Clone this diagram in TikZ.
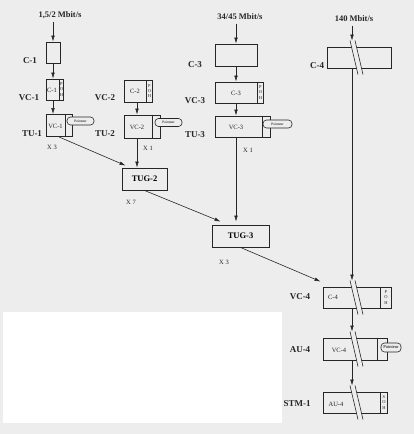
\documentclass[tikz,border=0pt]{standalone}
\usepackage{fontspec}
\setmainfont{Liberation Serif}
\usetikzlibrary{arrows.meta,calc}
\definecolor{sdhink}{HTML}{262626}
\definecolor{sdhpaper}{HTML}{EDEDED}

% double slash drawn through a box of the 140 Mbit/s column
\newcommand{\brk}[1]{%
  \fill[sdhpaper] ($(#1.north -| k4)+(-2,-6)$) -- ($(#1.north -| k4)+(3,-6)$)
    -- ($(#1.south -| k4)+(11,6)$) -- ($(#1.south -| k4)+(6,6)$) -- cycle;
  \draw[sdhink, line width=0.6pt] ($(#1.north -| k4)+(-2,-6)$) -- ($(#1.south -| k4)+(6,6)$);
  \draw[sdhink, line width=0.6pt] ($(#1.north -| k4)+(3,-6)$) -- ($(#1.south -| k4)+(11,6)$);
}

\begin{document}
\begin{tikzpicture}[x=1pt, y=-1pt,
        bx/.style 2 args={
          draw=sdhink, line width=0.9pt,
          minimum width=#1pt, minimum height=#2pt, inner sep=0pt,
        },
        ptr/.style={
          draw=sdhink, line width=0.6pt, fill=sdhpaper,
          rounded corners=3.5pt, inner sep=0pt,
          minimum width=#1pt, minimum height=8pt,
          font=\fontsize{3.6}{4}\selectfont,
        },
        strip/.style={draw=sdhink, line width=0.5pt},
        lab/.style={font=\fontsize{9}{10}\selectfont\bfseries, text=sdhink},
        rate/.style={font=\fontsize{8.5}{9}\selectfont\bfseries, text=sdhink},
        txt/.style={font=\fontsize{6.5}{7}\selectfont, text=sdhink, inner sep=0pt},
        mul/.style={font=\fontsize{6.5}{7}\selectfont, text=sdhink},
        poh/.style={font=\fontsize{4.5}{5.2}\selectfont, align=center, inner sep=0pt, text=sdhink},
        arr/.style={-{Latex[length=6pt,width=3.6pt]}, draw=sdhink, line width=0.6pt},
      ]
      \useasboundingbox (0,0) rectangle (414,434);
      \fill[sdhpaper] (0,0) rectangle (414,434);
      \fill[white] (3,312) rectangle (282,423);

      % column positions
      \coordinate (k1) at (53,0);
      \coordinate (k2) at (137,0);
      \coordinate (k3) at (236,0);
      \coordinate (k4) at (352,0);

      % 1,5/2 Mbit/s
      \node[rate] (rate1) at (60,15) {1,5/2 Mbit/s};
      \node[bx={14}{21}] (c1)  at (53,52.5) {};
      \node[bx={17}{21}] (vc1) at (54.5,89.5) {};
      \node[bx={26}{22}] (tu1) at (59,125.5) {};
      \draw[strip] ($(vc1.north east)+(-4,0)$) -- ($(vc1.south east)+(-4,0)$);
      \draw[strip] ($(tu1.north east)+(-7,0)$) -- ($(tu1.south east)+(-7,0)$);
      \node[poh] (vc1p) at ($(vc1.east)+(-2,0)$) {P\\O\\H};
      \node[txt] (vc1t) at (52,90) {C-1};
      \node[txt] (tu1t) at (55.5,126) {VC-1};
      \node[ptr=27] (p1) at (80.5,121) {Pointeur};
      \node[lab] (c1l)  at (30,61)  {C-1};
      \node[lab] (vc1l) at (29,98)  {VC-1};
      \node[lab] (tu1l) at (32,134) {TU-1};
      \node[mul] (m1)   at (52,147) {X 3};

      % VC-2
      \node[bx={28}{22}] (vc2) at (138,91) {};
      \node[bx={36}{23}] (tu2) at (142,126.5) {};
      \draw[strip] ($(vc2.north east)+(-6,0)$) -- ($(vc2.south east)+(-6,0)$);
      \draw[strip] ($(tu2.north east)+(-8,0)$) -- ($(tu2.south east)+(-8,0)$);
      \node[poh] (vc2p) at ($(vc2.east)+(-3,0)$) {P\\O\\H};
      \node[txt] (vc2t) at (135,91) {C-2};
      \node[txt] (tu2t) at (137,127) {VC-2};
      \node[ptr=27] (p2) at (168.5,122.5) {Pointeur};
      \node[lab] (vc2l) at (105,98)  {VC-2};
      \node[lab] (tu2l) at (105,134) {TU-2};
      \node[mul] (m2)   at (148,148) {X 1};
      \node[bx={45}{22}, font=\fontsize{8.5}{9}\selectfont\bfseries] (tug2) at (144.5,179) {TUG-2};
      \node[mul] (m3)   at (131,202) {X 7};

      % 34/45 Mbit/s
      \node[rate] (rate3) at (240,17) {34/45 Mbit/s};
      \node[bx={42}{22}] (c3)  at (236,55) {};
      \node[bx={48}{21}] (vc3) at (239,92.5) {};
      \node[bx={55}{21}] (tu3) at (242.5,126.5) {};
      \draw[strip] ($(vc3.north east)+(-6,0)$) -- ($(vc3.south east)+(-6,0)$);
      \draw[strip] ($(tu3.north east)+(-8,0)$) -- ($(tu3.south east)+(-8,0)$);
      \node[poh] (vc3p) at ($(vc3.east)+(-3,0)$) {P\\O\\H};
      \node[txt] (vc3t) at (236,93) {C-3};
      \node[txt] (tu3t) at (236,127) {VC-3};
      \node[ptr=29] (p3) at (277.5,124) {Pointeur};
      \node[lab] (c3l)  at (195,65)  {C-3};
      \node[lab] (vc3l) at (195,101) {VC-3};
      \node[lab] (tu3l) at (195,135) {TU-3};
      \node[mul] (m4)   at (248,150) {X 1};
      \node[bx={57}{22}, font=\fontsize{8.5}{9}\selectfont\bfseries] (tug3) at (240.5,236) {TUG-3};
      \node[mul] (m5)   at (224,262) {X 3};

      % 140 Mbit/s
      \node[rate] (rate4) at (354,19) {140 Mbit/s};
      \node[bx={64}{21}] (c4)   at (359,57.5) {};
      \node[bx={68}{21}] (vc4)  at (357,297.5) {};
      \node[bx={64}{22}] (au4)  at (355,349) {};
      \node[bx={64}{21}] (stm1) at (355,402.5) {};
      \draw[strip] ($(vc4.north east)+(-11,0)$) -- ($(vc4.south east)+(-11,0)$);
      \draw[strip] ($(au4.north east)+(-10,0)$) -- ($(au4.south east)+(-10,0)$);
      \draw[strip] ($(stm1.north east)+(-7,0)$) -- ($(stm1.south east)+(-7,0)$);
      \node[poh] (vc4p)  at ($(vc4.east)+(-5.5,0)$) {P\\O\\H};
      \node[poh] (stm1p) at ($(stm1.east)+(-3.5,0)$) {S\\O\\H};
      \brk{c4}
      \brk{vc4}
      \brk{au4}
      \brk{stm1}
      \node[txt] (vc4t)  at (333,297) {C-4};
      \node[txt] (au4t)  at (339,350) {VC-4};
      \node[txt] (stm1t) at (336,404) {AU-4};
      \node[ptr=20, font=\fontsize{4.5}{5}\selectfont, minimum height=9pt] (p4) at (391,347.5) {Pointeur};
      \node[lab] (c4l)   at (317,66)  {C-4};
      \node[lab] (vc4l)  at (300,297) {VC-4};
      \node[lab] (au4l)  at (300,350) {AU-4};
      \node[lab] (stm1l) at (297,404) {STM-1};

      % arrows
      \draw[arr] (rate1.south -| k1) -- (c1.north -| k1);
      \draw[arr] (c1.south -| k1)    -- (vc1.north -| k1);
      \draw[arr] (vc1.south -| k1)   -- (tu1.north -| k1);
      \draw[arr] (vc2.south -| k2)   -- (tu2.north -| k2);
      \draw[arr] (tu2.south -| k2)   -- (tug2.north -| k2);
      \draw[arr] (tu1.south) -- ($(tug2.north west)+(4,-2)$);
      \draw[arr] (rate3.south -| k3) -- (c3.north -| k3);
      \draw[arr] (c3.south -| k3)    -- (vc3.north -| k3);
      \draw[arr] (vc3.south -| k3)   -- (tu3.north -| k3);
      \draw[arr] (tu3.south -| k3)   -- ($(tug3.north -| k3)+(0,-3)$);
      \draw[arr] (tug2.south) -- ($(tug3.north west)+(9,-3)$);
      \draw[arr] (tug3.south) -- ($(vc4.north west)+(-2,-5)$);
      \draw[arr] (rate4.south -| k4) -- ($(c4.north -| k4)+(0,-6)$);
      \draw[arr] (c4.south -| k4)    -- ($(vc4.north -| k4)+(0,-6)$);
      \draw[arr] (vc4.south -| k4)   -- ($(au4.north -| k4)+(0,-6)$);
      \draw[arr] (au4.south -| k4)   -- ($(stm1.north -| k4)+(0,-6)$);
    \end{tikzpicture}
\end{document}
